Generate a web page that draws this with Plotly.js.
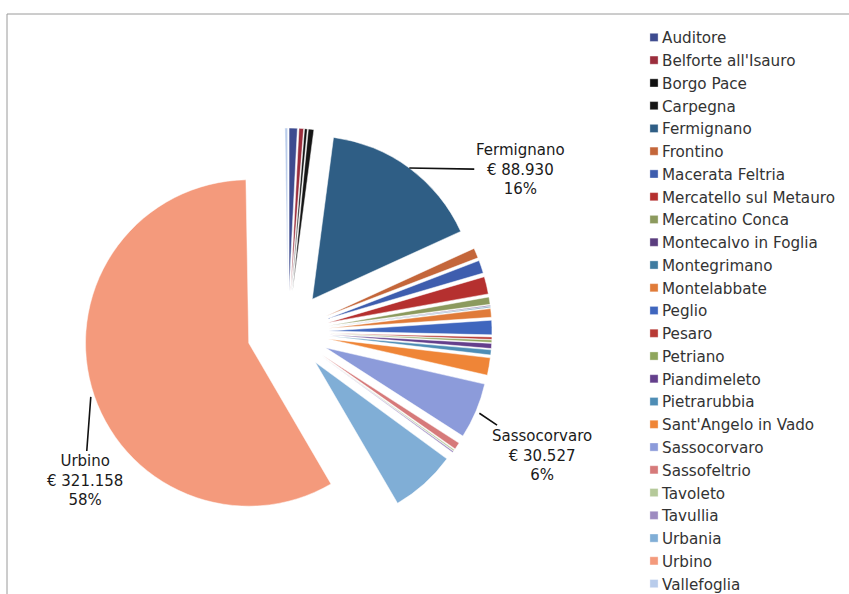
<!DOCTYPE html>
<html>
<head>
<meta charset="utf-8">
<script src="https://cdn.plot.ly/plotly-3.0.1.min.js"></script>
<style>
html,body{margin:0;padding:0;background:#fff;}
#chart{width:849px;height:594px;}
</style>
</head>
<body>
<div id="chart"></div>
<script>
var comuni = ["Auditore","Belforte all'Isauro","Borgo Pace","Carpegna","Fermignano","Frontino","Macerata Feltria","Mercatello sul Metauro","Mercatino Conca","Montecalvo in Foglia","Montegrimano","Montelabbate","Peglio","Pesaro","Petriano","Piandimeleto","Pietrarubbia","Sant'Angelo in Vado","Sassocorvaro","Sassofeltrio","Tavoleto","Tavullia","Urbania","Urbino","Vallefoglia"];
var importi = [4500,2500,1500,3000,88930,5500,7100,9500,4000,500,500,4700,7900,1300,1300,2800,2800,9500,30527,3800,800,800,36000,321158,1500];
var colori = ["#3D4B8F","#9B2D3C","#111111","#151515","#2F5E85","#C4663A","#3E5DAE","#B5302F","#8C9A5E","#5A3D7E","#3F7BA0","#E07B39","#3F66BE","#B83A35","#8FA65C","#643F8C","#4E8DB5","#EF8537","#8C9BDA","#D67A7A","#B5C99A","#9D8BC0","#80AED6","#F49A7C","#B9CCEB"];
var etichettati = ["Fermignano","Sassocorvaro","Urbino"];

var W = 849, H = 594;
var dom = {x:[84/W, 492/W], y:[1-536/H, 1-128/H]};
var PULL = 0.25;
var FONT = "DejaVu Sans, Liberation Sans, Arial, sans-serif";

var offsets = {"Fermignano":{ax:111,ay:2,st:0},"Sassocorvaro":{ax:66,ay:44,st:4},"Urbino":{ax:-7,ay:94,st:10}};

function fmt(v){return String(v).replace(/\B(?=(\d{3})+(?!\d))/g,".");}

var total = importi.reduce(function(a,b){return a+b;},0);
var cxp = (dom.x[0]+dom.x[1])/2*W;
var cyp = (1-(dom.y[0]+dom.y[1])/2)*H;
var outer = Math.min((dom.x[1]-dom.x[0])*W,(dom.y[1]-dom.y[0])*H)/2;

var annotations = [];
var cum = 0;
for (var i=0;i<comuni.length;i++){
  var mid = (cum + importi[i]/2)/total*2*Math.PI;
  cum += importi[i];
  if (etichettati.indexOf(comuni[i])<0) continue;
  var px = cxp + outer*Math.sin(mid);
  var py = cyp - outer*Math.cos(mid);
  var o = offsets[comuni[i]];
  annotations.push({
    x:px/W, y:1-py/H, xref:'paper', yref:'paper',
    text: comuni[i]+"<br>€ "+fmt(importi[i])+"<br>"+Math.round(importi[i]/total*100)+"%",
    showarrow:true, arrowhead:0, arrowwidth:1.6, arrowcolor:'#111',
    ax:o.ax, ay:o.ay, standoff:o.st, align:'center',
    font:{family:FONT,size:15,color:'#1a1a1a'}
  });
}

var trace = {
  type:'pie', labels:comuni, values:importi, sort:false, direction:'clockwise', rotation:0,
  marker:{colors:colori, line:{color:'#ffffff', width:0.5}},
  pull:comuni.map(function(){return PULL;}),
  textinfo:'none', hoverinfo:'none', domain:dom
};

var layout = {
  width:W, height:H, margin:{l:0,r:0,t:0,b:0},
  paper_bgcolor:'#ffffff', plot_bgcolor:'#ffffff',
  showlegend:true,
  legend:{x:622/W, y:1-26/H, xanchor:'left', yanchor:'top', traceorder:'normal',
    font:{family:FONT,size:15.2,color:'#333'}, bgcolor:'rgba(0,0,0,0)'},
  annotations:annotations,
  shapes:[
    {type:'line',xref:'paper',yref:'paper',x0:7/W,x1:1,y0:1-14/H,y1:1-14/H,line:{color:'#9a9a9a',width:1}},
    {type:'line',xref:'paper',yref:'paper',x0:7/W,x1:7/W,y0:1-14/H,y1:0,line:{color:'#9a9a9a',width:1}}
  ]
};

Plotly.newPlot('chart',[trace],layout,{staticPlot:true}).then(function(gd){
  // smaller legend swatches, placed close to the text as in the original
  gd.querySelectorAll('.legend .legendpoints path').forEach(function(p){
    p.setAttribute('transform','translate(32,0) scale(0.68)');
  });
  // the legend reaches the bottom edge in the original; nudge it down
  var lg = gd.querySelector('.legend');
  if (lg) {
    var m = /translate\(\s*([-\d.]+)[ ,]+([-\d.]+)\s*\)/.exec(lg.getAttribute('transform') || '');
    if (m) lg.setAttribute('transform','translate('+m[1]+','+(parseFloat(m[2])+6)+')');
  }
});
</script>
</body>
</html>
